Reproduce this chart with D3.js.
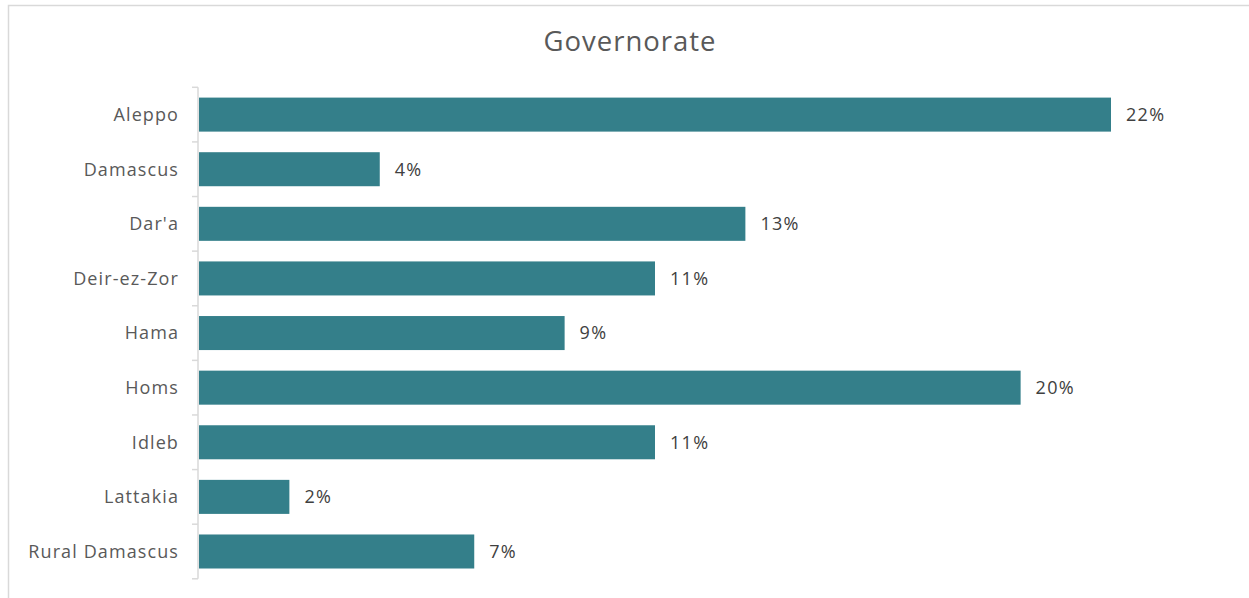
<!DOCTYPE html>
<html>
<head>
<meta charset="utf-8">
<script src="https://cdn.jsdelivr.net/npm/d3@7"></script>
<style>
  html, body { margin: 0; padding: 0; background: #fff; }
  svg { display: block; font-family: "Open Sans", sans-serif; }
</style>
</head>
<body>
<div id="container"></div>
<script>
// governorates and their share of respondents (%)
const categories = ["Aleppo", "Damascus", "Dar'a", "Deir-ez-Zor", "Hama", "Homs", "Idleb", "Lattakia", "Rural Damascus"];
const values = [22.2, 4.4, 13.3, 11.1, 8.9, 20.0, 11.1, 2.2, 6.7];
const title = "Governorate";

const width = 1249, height = 598;
const plot = { left: 198, right: 1249, top: 87.3, bottom: 578.8 };

const svg = d3.select('#container').append('svg')
  .attr('width', width)
  .attr('height', height);

// chart frame (runs off the right and bottom edges)
svg.append('rect')
  .attr('x', 8.5).attr('y', 5.5)
  .attr('width', 1260).attr('height', 620)
  .attr('fill', '#fff')
  .attr('stroke', '#d9d9d9')
  .attr('stroke-width', 1.5);

svg.append('text')
  .attr('x', 630).attr('y', 51)
  .attr('text-anchor', 'middle')
  .attr('fill', '#595959')
  .style('font-size', '27.5px')
  .style('letter-spacing', '1px')
  .text(title);

const x = d3.scaleLinear().domain([0, 22.2]).range([plot.left + 1, 1111]);
const y = d3.scaleBand().domain(categories).range([plot.top, plot.bottom])
  .paddingInner(0.377).paddingOuter(0.1885);

// category axis with boundary ticks
const axisG = svg.append('g');
axisG.append('line')
  .attr('x1', plot.left).attr('x2', plot.left)
  .attr('y1', plot.top).attr('y2', plot.bottom)
  .attr('stroke', '#d9d9d9').attr('stroke-width', 1.5);
const step = y.step();
d3.range(categories.length + 1).forEach(i => {
  const ty = plot.top + i * step;
  axisG.append('line')
    .attr('x1', plot.left - 6).attr('x2', plot.left)
    .attr('y1', ty).attr('y2', ty)
    .attr('stroke', '#d9d9d9').attr('stroke-width', 1.5);
});
axisG.selectAll('text.cat').data(categories).enter().append('text')
  .attr('class', 'cat')
  .attr('x', 179)
  .attr('y', d => y(d) + y.bandwidth() / 2)
  .attr('dy', '0.35em')
  .attr('text-anchor', 'end')
  .attr('fill', '#595959')
  .style('font-size', '18px')
  .style('letter-spacing', '1.1px')
  .text(d => d);

const data = categories.map((c, i) => ({ c: c, v: values[i] }));

svg.selectAll('rect.bar').data(data).enter().append('rect')
  .attr('class', 'bar')
  .attr('x', x(0))
  .attr('y', d => y(d.c))
  .attr('width', d => x(d.v) - x(0))
  .attr('height', y.bandwidth())
  .attr('fill', '#347f8a');

svg.selectAll('text.val').data(data).enter().append('text')
  .attr('class', 'val')
  .attr('x', d => x(d.v) + 15)
  .attr('y', d => y(d.c) + y.bandwidth() / 2)
  .attr('dy', '0.35em')
  .attr('fill', '#404040')
  .style('font-size', '18px')
  .style('letter-spacing', '1.3px')
  .text(d => Math.round(d.v) + '%');
</script>
</body>
</html>
